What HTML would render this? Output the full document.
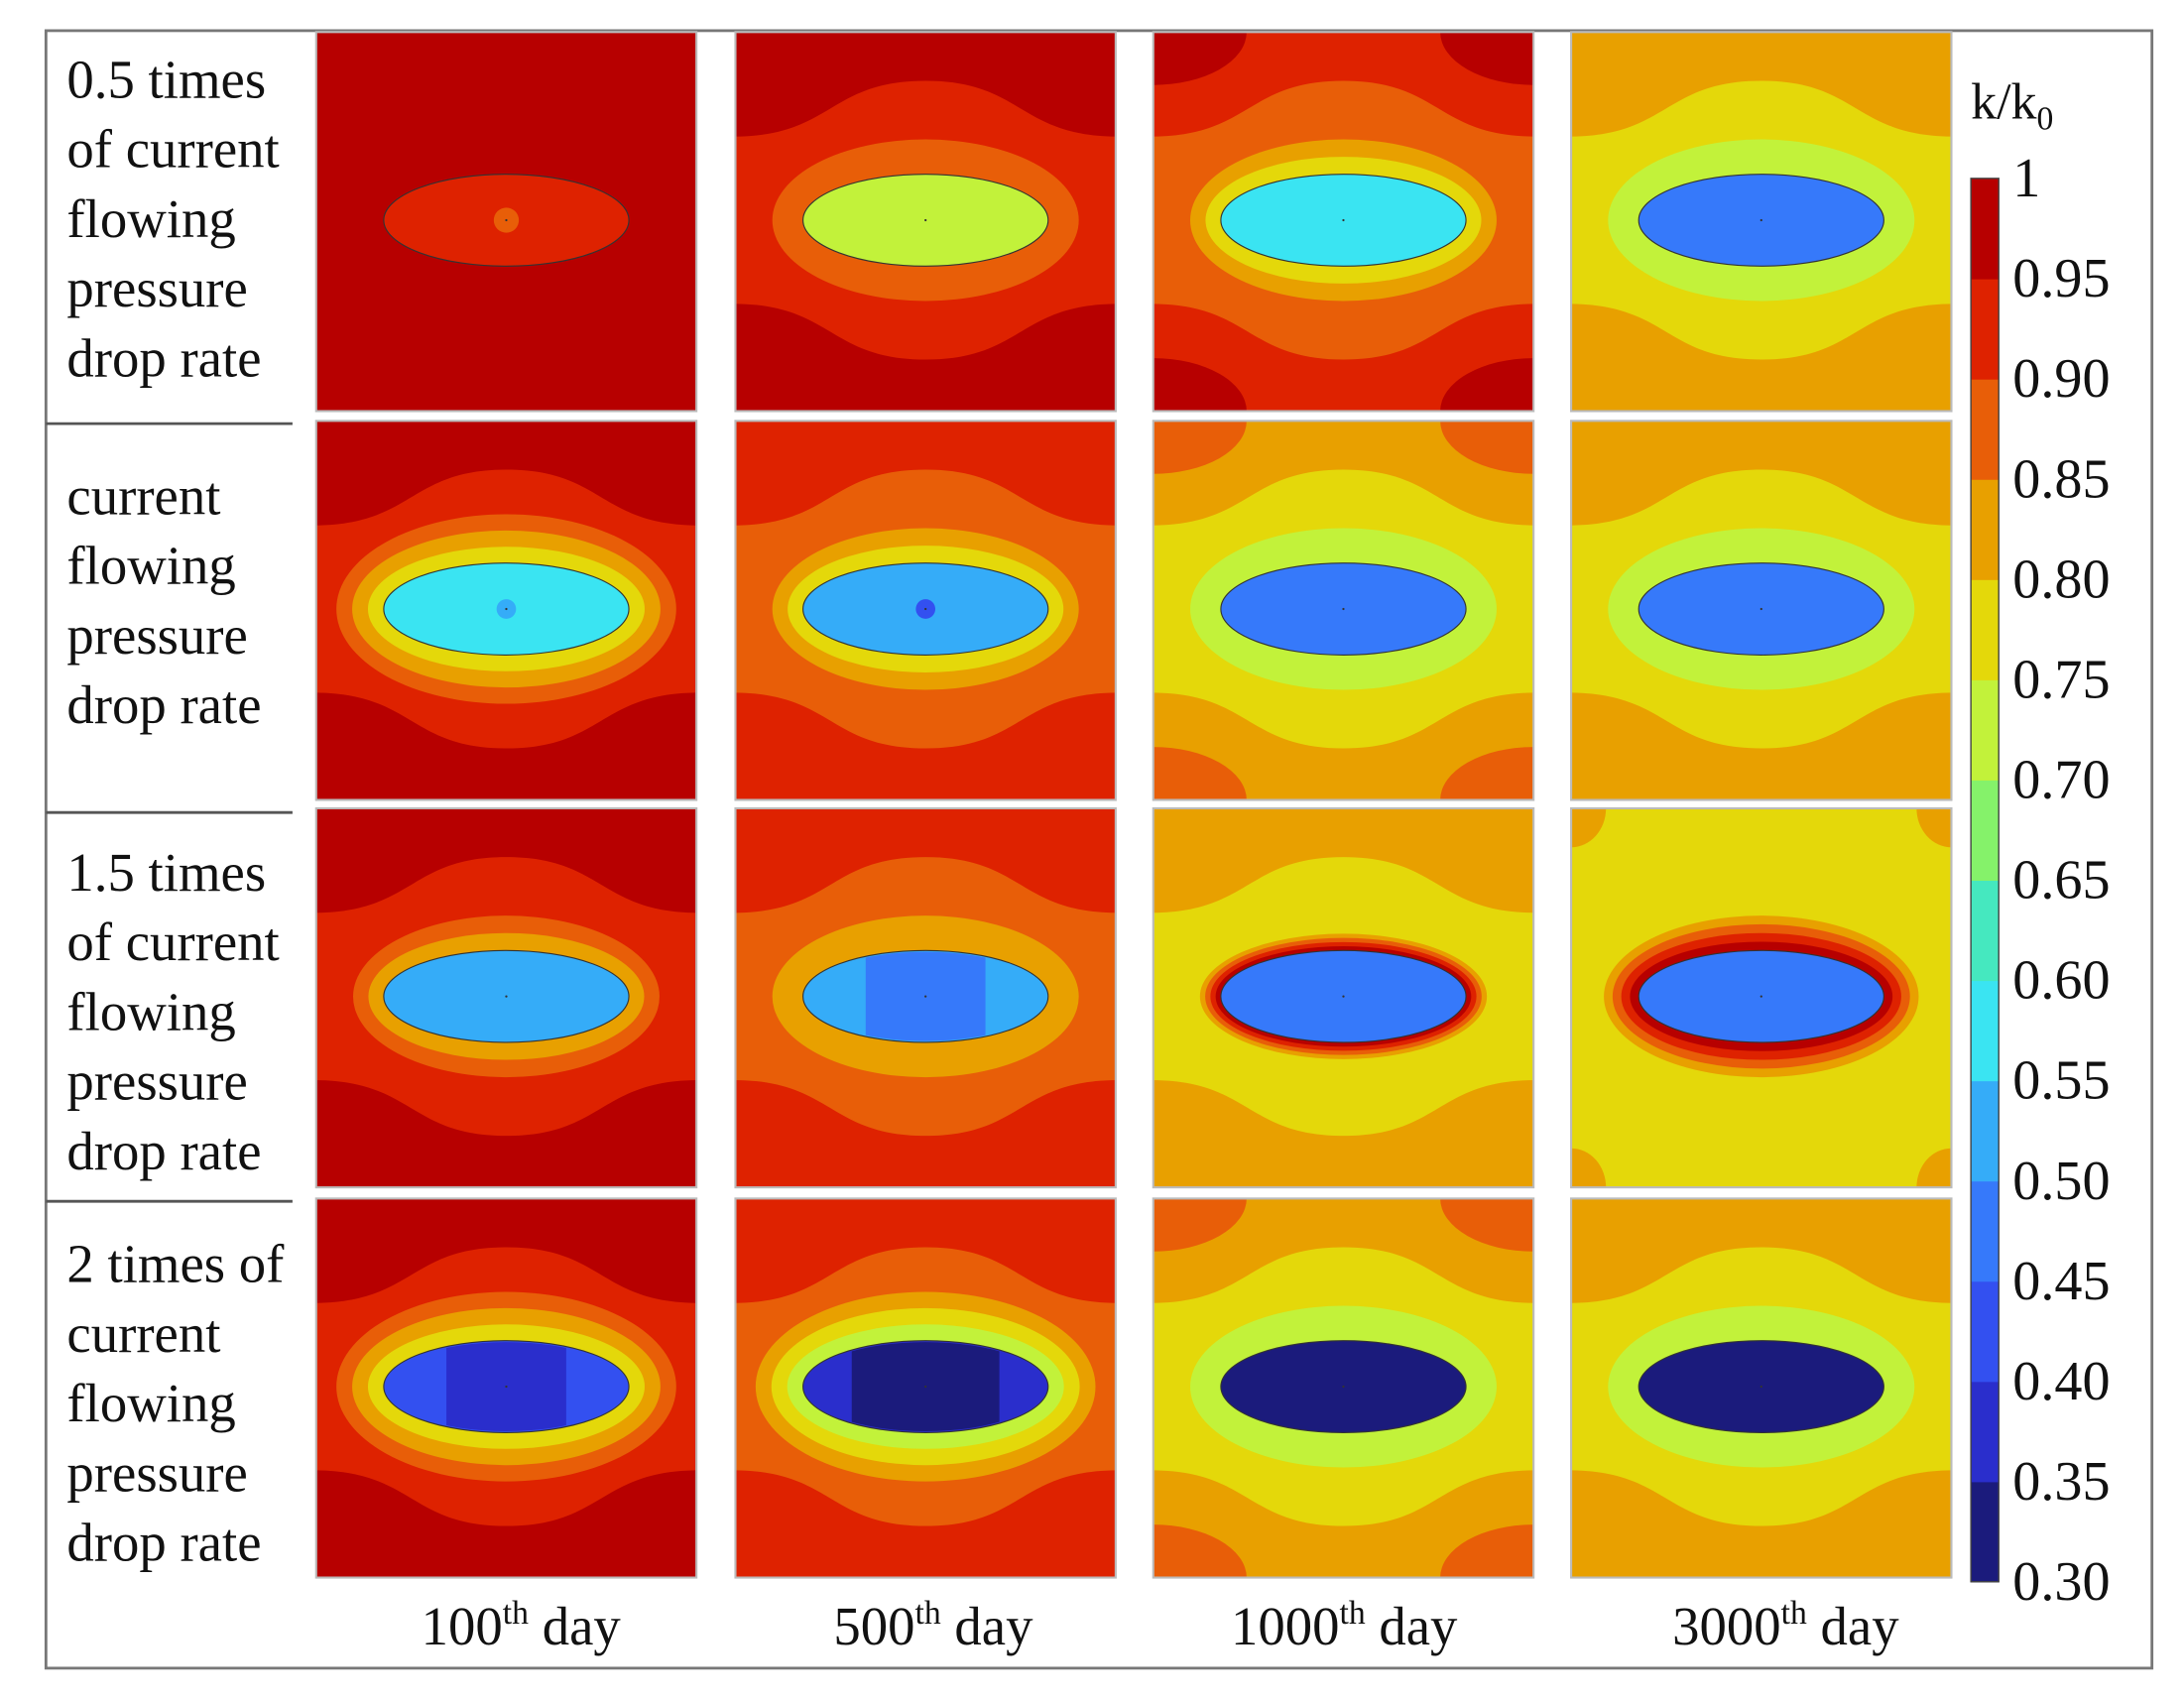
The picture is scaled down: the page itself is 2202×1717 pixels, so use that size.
<!DOCTYPE html>
<html><head><meta charset="utf-8"><style>
html,body{margin:0;padding:0;background:#fff;}
svg{display:block;}
text{font-family:"Liberation Serif",serif;fill:#111;}
</style></head><body>
<svg id="fig" width="2202" height="1717" viewBox="0 0 1568 1222" preserveAspectRatio="none" xmlns="http://www.w3.org/2000/svg">
<rect x="33" y="22" width="1512" height="1175" fill="#fff" stroke="#777" stroke-width="2"/>
<defs id="defs"></defs>
<g id="panels"></g><g id="labels"></g><g id="cbar"></g>
</svg>
<script>
// colour levels 0.30-0.35 ... 0.95-1.00
const levelColors=["#1b1b7c","#2a2ecc","#3350f0","#3679fa","#35acf8","#3ae4f2","#45e8bf","#85f26a","#c2f23a","#e4d80a","#e8a000","#e85e08","#de2200","#b70000"];
const tickLabels=["1","0.95","0.90","0.85","0.80","0.75","0.70","0.65","0.60","0.55","0.50","0.45","0.40","0.35","0.30"];
const rowLabels=[["0.5 times","of current","flowing","pressure","drop rate"],["current","flowing","pressure","drop rate"],["1.5 times","of current","flowing","pressure","drop rate"],["2 times of","current","flowing","pressure","drop rate"]];
const colDays=["100","500","1000","3000"];
// per panel: background level, corner level, wave levels, ring levels (outer->inner), inner level, stripe level, dot level
const panelBg=[[13,13,12,10],[13,12,10,10],[13,12,10,9],[13,12,10,10]];
const panelCorner=[[null,null,13,null],[null,null,11,null],[null,null,null,10],[null,null,11,null]];
const panelWaves=[[[],[12],[11],[9]],[[12],[11],[9],[9]],[[12],[11],[9],[]],[[12],[11],[9],[9]]];
const panelRings=[[[],[11],[10,9],[8]],[[11,10,9],[10,9],[8],[8]],[[11,10],[10],[10,11,12,13],[10,11,12,13]],[[11,10,9],[10,9,8],[8],[8]]];
const panelInner=[[12,8,5,3],[5,4,3,3],[4,4,3,3],[2,1,0,0]];
const panelStripe=[[null,null,null,null],[null,null,null,null],[null,3,null,null],[1,0,null,null]];
const panelDot=[[11,null,null,null],[4,2,null,null],[null,null,null,null],[null,null,null,null]];

const NS="http://www.w3.org/2000/svg";
const colX=[227,528,828,1128], rowY=[23,302,580,860], PW=273, PH=272;
function mk(tag,attrs,parent){const e=document.createElementNS(NS,tag);for(const k in attrs)e.setAttribute(k,attrs[k]);parent.appendChild(e);return e;}
const defs=document.getElementById('defs'), gp=document.getElementById('panels');
for(let r=0;r<4;r++)for(let c=0;c<4;c++){
  const x0=colX[c],y0=rowY[r],cx=x0+PW/2,cy=y0+PH/2-1;
  const cp=mk('clipPath',{id:'cp'+r+c},defs);mk('rect',{x:x0,y:y0,width:PW,height:PH},cp);
  const g=mk('g',{'clip-path':'url(#cp'+r+c+')'},gp);
  
  
  mk('rect',{x:x0,y:y0,width:PW,height:PH,fill:levelColors[panelBg[r][c]]},g);
  const cl=panelCorner[r][c];
  if(cl!==null){const small=(r==2&&c==3);const rx=small?25:67,ry=small?28:38;
    [[x0,y0],[x0+PW,y0],[x0,y0+PH],[x0+PW,y0+PH]].forEach(p=>mk('ellipse',{cx:p[0],cy:p[1],rx:rx,ry:ry,fill:levelColors[cl]},g));}
  const waves=panelWaves[r][c];
  waves.forEach((lv,j)=>{const ext=(waves.length-1-j)*18;const tc=100+ext,te=60+ext*0.8;
    const d=`M${x0-2},${cy-te} C${x0+70},${cy-te} ${cx-70},${cy-tc} ${cx},${cy-tc} C${cx+70},${cy-tc} ${x0+PW-70},${cy-te} ${x0+PW+2},${cy-te} L${x0+PW+2},${cy+te} C${x0+PW-70},${cy+te} ${cx+70},${cy+tc} ${cx},${cy+tc} C${cx-70},${cy+tc} ${x0+70},${cy+te} ${x0-2},${cy+te} Z`;
    mk('path',{d:d,fill:levelColors[lv]},g);});
  const rings=panelRings[r][c],n=rings.length;
  const tight=(r==2&&c>=2);const oRx=tight?(c==3?113:103):(n>=3?122:110),oRy=tight?(c==3?58:45):(n>=3?68:58);
  rings.forEach((lv,k)=>{const f=(n-k)/n;mk('ellipse',{cx:cx,cy:cy,rx:88+(oRx-88)*f,ry:33+(oRy-33)*f,fill:levelColors[lv]},g);});
  mk('ellipse',{cx:cx,cy:cy,rx:88,ry:33,fill:levelColors[panelInner[r][c]],stroke:'#333','stroke-width':0.8},g);
  const st=panelStripe[r][c];
  if(st!==null){const icp=mk('clipPath',{id:'ic'+r+c},defs);mk('ellipse',{cx:cx,cy:cy,rx:87,ry:32},icp);
    mk('rect',{x:cx-(r==3&&c==1?53:43),y:cy-40,width:(r==3&&c==1?106:86),height:80,fill:levelColors[st],'clip-path':'url(#ic'+r+c+')'},g);}
  const dl=panelDot[r][c];
  if(dl!==null)mk('circle',{cx:cx,cy:cy,r:(r==0?9:7),fill:levelColors[dl]},g);
  mk('circle',{cx:cx,cy:cy,r:0.8,fill:'#333'},g);
  mk('rect',{x:x0,y:y0,width:PW,height:PH,fill:'none',stroke:'#bbb','stroke-width':1.5},gp);
}
const gl=document.getElementById('labels');
const rowTextY=[58,357,627,908];
rowLabels.forEach((lines,r)=>{const t=mk('text',{x:48,y:rowTextY[r]+12,'font-size':39},gl);
  
  
  lines.forEach((ln,i)=>{mk('tspan',{x:48,dy:i?50:0},t).textContent=ln;});});
[304,583,862].forEach(y=>mk('line',{x1:33,y1:y,x2:210,y2:y,stroke:'#555','stroke-width':2},gl));
const dayCx=[374,670,965,1282];
colDays.forEach((d,i)=>{const t=mk('text',{x:dayCx[i],y:1180,'font-size':39,'text-anchor':'middle'},gl);
  
  
  mk('tspan',{},t).textContent=d;
  mk('tspan',{'font-size':24,dy:-15},t).textContent='th';
  mk('tspan',{dy:15},t).textContent=' day';});
// colour bar
const gc=document.getElementById('cbar');


const cbX=1415,cbTop=128,cbBot=1135,cbW=20;
function yOf(v){return cbBot-(v-0.30)/(1-0.30)*(cbBot-cbTop);}
levelColors.forEach((col,i)=>{const v0=0.30+i*0.05,v1=v0+0.05;mk('rect',{x:cbX,y:yOf(v1),width:cbW,height:yOf(v0)-yOf(v1)+0.5,fill:col},gc);});
mk('rect',{x:cbX,y:cbTop,width:cbW,height:cbBot-cbTop,fill:'none',stroke:'#444','stroke-width':1},gc);
tickLabels.forEach(lb=>{const v=parseFloat(lb);const t=mk('text',{x:1445,y:yOf(v)+13,'font-size':40},gc);
  
  
  t.textContent=lb;});
const tt=mk('text',{x:1415,y:85,'font-size':37},gc);


mk('tspan',{},tt).textContent='k/k';
mk('tspan',{'font-size':24,dy:8},tt).textContent='0';
</script>
</body></html>
